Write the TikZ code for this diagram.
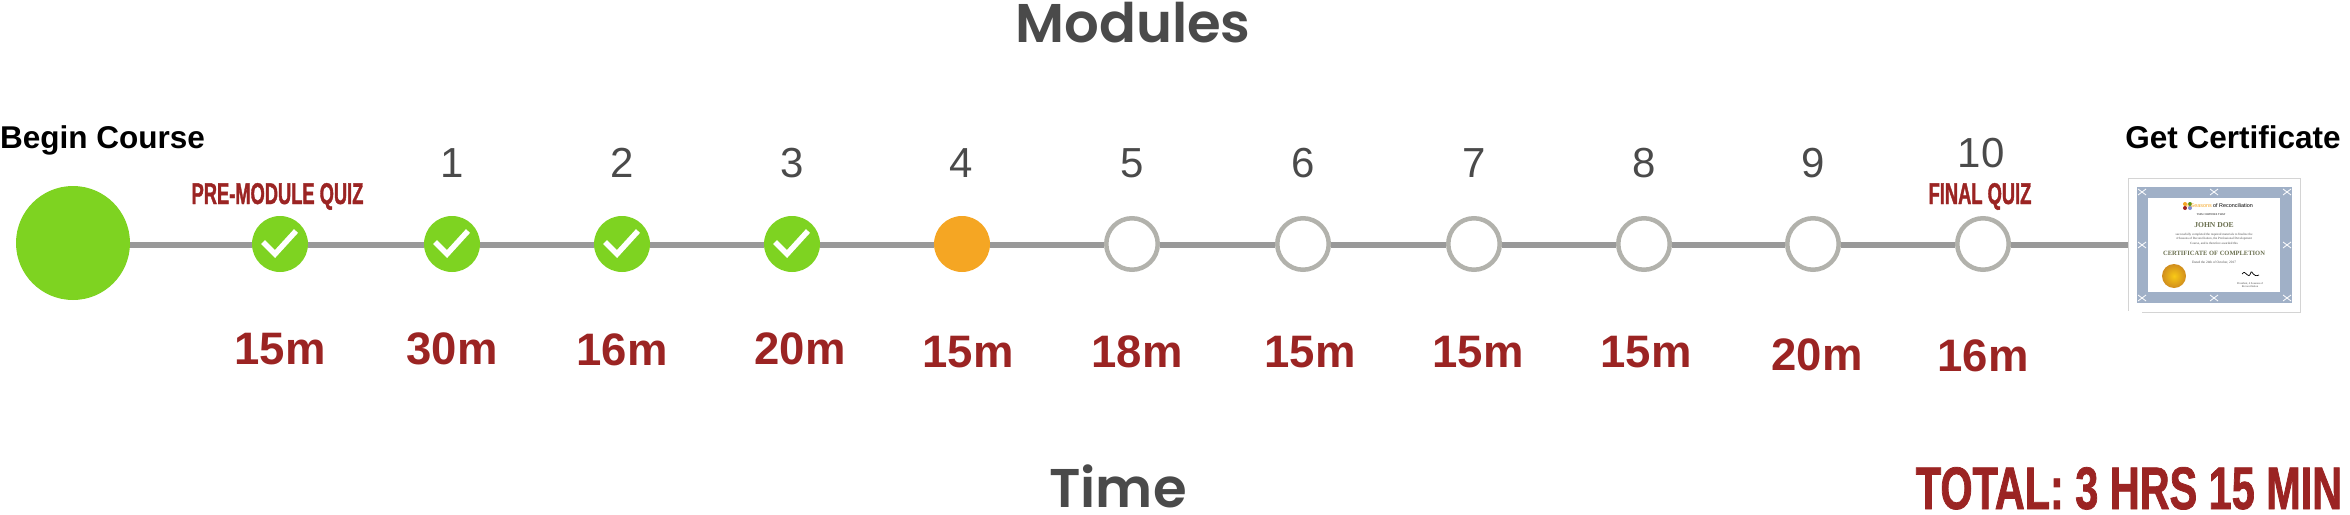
\documentclass[tikz,border=0pt]{standalone}
\usepackage{fontspec}
\setmainfont{Liberation Sans}
\newfontfamily\titlefont[BoldFont=* SemiBold]{Poppins}
\newfontfamily\quizfont[FakeStretch=0.61,FakeBold=1.2]{Liberation Sans}
\newfontfamily\totalfont[FakeStretch=0.69,FakeBold=1.2]{Liberation Sans}
\newfontfamily\certfont{Liberation Serif}
\definecolor{gg}{RGB}{126, 211, 33}
\definecolor{oo}{RGB}{245, 166, 35}
\definecolor{rr}{RGB}{155, 36, 35}
\definecolor{tt}{RGB}{74, 74, 74}
\definecolor{ll}{RGB}{153, 153, 153}
\definecolor{rg}{RGB}{178, 178, 172}
\definecolor{bb}{RGB}{160, 176, 199}
\definecolor{ol}{RGB}{107, 112, 80}
\def\modsize{56pt}
\tikzset{
	trackline/.style={draw=ll,line width=6pt,transform canvas={yshift=-1pt}},
	checkline/.style={draw=white,line width=5.5pt},
	donenode/.style={circle,fill=gg,minimum size=\modsize,inner sep=0pt},
	nownode/.style={circle,fill=oo,minimum size=\modsize,inner sep=0pt},
	opennode/.style={circle,draw=rg,line width=4.5pt,fill=white,minimum size=\modsize-4.5pt,inner sep=0pt},
	timetext/.style={anchor=base,inner sep=0pt,text=rr,font=\bfseries\fontsize{45.5}{46}\selectfont},
	numtext/.style={anchor=base,inner sep=0pt,text=tt,font=\fontsize{42}{42}\selectfont},
	headtext/.style={anchor=base,inner sep=0pt,text=black,font=\bfseries\fontsize{31.5}{32}\selectfont},
	axistext/.style={anchor=base,inner sep=0pt,text=tt,font=\titlefont\bfseries\fontsize{54.5}{56}\selectfont},
	quiztext/.style={anchor=base,inner sep=0pt,text=rr,font=\quizfont\bfseries\fontsize{30}{30}\selectfont},
	certtext/.style={anchor=center,inner sep=0pt,align=center,font=\certfont},
	certorn/.style={draw=white,line width=.8pt},
}
% #1 style, #2 x, #3 name, #4 time, #5 time x, #6 time baseline
\newcommand{\modnode}[6]{\node[#1] (#3) at (#2,244) {};
	\node[timetext] (#3time) at (#5,#6) {#4};}
\newcommand{\modnum}[4]{\node[numtext] (#2num) at (#1,#4) {#3};}
\newcommand{\modcheck}[1]{\draw[checkline] ([shift={(-17,-2)}]#1.center) -- ++(12,12) -- ++(21,-23);}
\newcommand{\certmark}[2]{\draw[certorn] (#1-4,#2-3) -- (#1+4,#2+3);
	\draw[certorn] (#1-4,#2+3) -- (#1+4,#2-3);}
\begin{document}
\begin{tikzpicture}[x=1pt,y=-1pt]
\useasboundingbox (0,0) rectangle (2350,514);

\node[axistext] (modules) at (1133,42) {Modules};
\node[axistext] (time) at (1118,507) {Time};
\node[headtext] (begintext) at (102.5,148) {Begin Course};
\node[headtext] (certhead) at (2233,148) {Get Certificate};

\node[circle,fill=gg,minimum size=114pt,inner sep=0pt] (begin) at (73,243) {};
\node[draw=black!17,line width=1pt,fill=white,minimum width=172pt,minimum height=134pt,inner sep=0pt] (cert) at (2214,245) {};

\modnode{donenode}{280}{quiz}{15m}{280}{364}
\modnode{donenode}{452}{one}{30m}{452}{364}
\modnode{donenode}{622}{two}{16m}{622}{365}
\modnode{donenode}{792}{three}{20m}{800}{364}
\modnode{nownode}{962}{four}{15m}{968}{367}
\modnode{opennode}{1132}{five}{18m}{1137}{367}
\modnode{opennode}{1303}{six}{15m}{1310}{367}
\modnode{opennode}{1474}{seven}{15m}{1478}{367}
\modnode{opennode}{1644}{eight}{15m}{1646}{367}
\modnode{opennode}{1813}{nine}{20m}{1817}{370}
\modnode{opennode}{1983}{ten}{16m}{1983}{371}

\modnum{452}{one}{1}{177}
\modnum{622}{two}{2}{177}
\modnum{792}{three}{3}{177}
\modnum{961}{four}{4}{177}
\modnum{1132}{five}{5}{177}
\modnum{1303}{six}{6}{177}
\modnum{1474}{seven}{7}{177}
\modnum{1644}{eight}{8}{177}
\modnum{1813}{nine}{9}{177}
\modnum{1981}{ten}{10}{167}

\node[quiztext] (prequiz) at (277.5,204) {PRE-MODULE QUIZ};
\node[quiztext] (finalquiz) at (1980,204) {FINAL QUIZ};
\node[quiztext,font=\totalfont\bfseries\fontsize{60}{60}\selectfont] (total) at (2129,509) {TOTAL: 3 HRS 15 MIN};

\modcheck{quiz}
\modcheck{one}
\modcheck{two}
\modcheck{three}

\draw[trackline] (begin.east |- quiz) -- (quiz);
\draw[trackline] (quiz) -- (one);
\draw[trackline] (one) -- (two);
\draw[trackline] (two) -- (three);
\draw[trackline] (three) -- (four);
\draw[trackline] (four) -- (five);
\draw[trackline] (five) -- (six);
\draw[trackline] (six) -- (seven);
\draw[trackline] (seven) -- (eight);
\draw[trackline] (eight) -- (nine);
\draw[trackline] (nine) -- (ten);
\draw[trackline] (ten) -- (ten -| cert.west);

% certificate
\draw[white,line width=1.4pt] (2127,312) -- (2142,312);
\fill[bb] (2137,187) rectangle (2292,303);
\fill[white] (2148,198) rectangle (2280,292);
\certmark{2142}{192}
\certmark{2287}{192}
\certmark{2142}{298}
\certmark{2287}{298}
\certmark{2214}{192}
\certmark{2214}{298}
\certmark{2142}{245}
\certmark{2287}{245}
\fill[oo] (2185,204) circle (2pt);
\fill[gg!70!black] (2190,204) circle (2pt);
\fill[rr] (2185,208) circle (2pt);
\fill[bb!80!blue] (2190,208) circle (2pt);
\node[certtext,font=\fontsize{5.4}{6}\selectfont] (certbrand) at (2219.5,206) {\textcolor{oo}{4 Seasons} of Reconciliation};
\node[certtext,font=\certfont\fontsize{2.8}{3}\selectfont] (certthis) at (2211,215) {THIS CERTIFIES THAT};
\node[certtext,text=ol,font=\certfont\bfseries\fontsize{7.6}{9}\selectfont] (certname) at (2214,225) {JOHN DOE};
\node[certtext,text=black!70,font=\certfont\fontsize{3.2}{4.4}\selectfont] (certbody) at (2214,239) {successfully completed the required materials to finalize the\\4 Seasons of Reconciliation, the Professional Development\\Course, and is therefore awarded this};
\node[certtext,text=ol,font=\certfont\bfseries\fontsize{6.5}{8}\selectfont] (certtitle) at (2214,253) {CERTIFICATE OF COMPLETION};
\node[certtext,text=black!70,font=\certfont\fontsize{3.4}{4}\selectfont] (certdate) at (2214,263) {Dated the 24th of October, 2017};
\node[circle,inner color=oo!60!yellow,outer color=oo!85!black,minimum size=24pt,inner sep=0pt] (certseal) at (2174,276) {};
\draw[black,line width=.7pt] (2242,274) .. controls (2246,268) and (2248,282) .. (2251,272) .. controls (2252,270) and (2253,278) .. (2259,275);
\node[certtext,text=black!70,font=\certfont\fontsize{2.8}{3.4}\selectfont] (certsign) at (2250,285) {President, 4 Seasons of\\Reconciliation};
\end{tikzpicture}
\end{document}
